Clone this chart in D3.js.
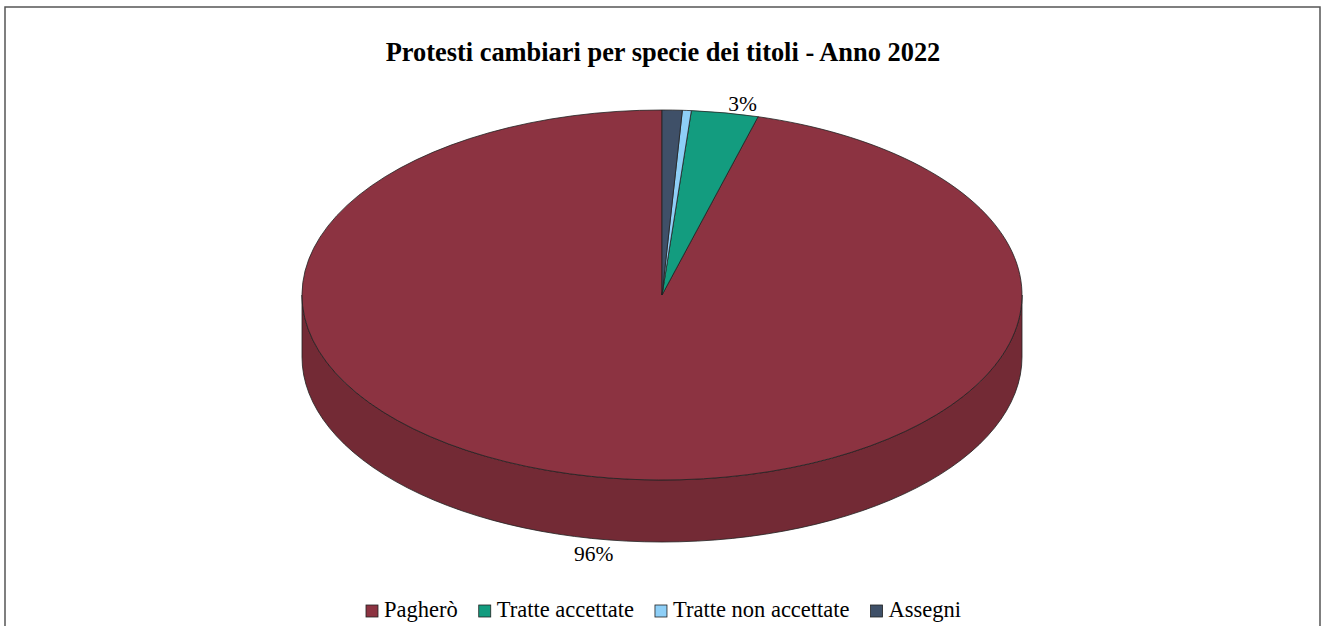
<!DOCTYPE html>
<html>
<head>
<meta charset="utf-8">
<script src="https://cdn.jsdelivr.net/npm/d3@7/dist/d3.min.js"></script>
<style>
  html, body { margin: 0; padding: 0; background: #fff; }
  svg { display: block; }
</style>
</head>
<body>
<svg id="chart" width="1323" height="626"></svg>
<script>
// Protesti cambiari per specie dei titoli, anno 2022 (quote percentuali)
const categories = ["Pagherò", "Tratte accettate", "Tratte non accettate", "Assegni"];
const shares = [95.7, 3.0, 0.4, 0.9];
const topColors = ["#8c3341", "#139c7f", "#8ecff7", "#3f5068"];
const sideColors = ["#732a35", "#0f7f67", "#70a9cc", "#323f52"];
const labelMin = 2; // slices below this share carry no label

const svg = d3.select("#chart");
const font = "'Liberation Serif', 'Times New Roman', serif";

// outer frame
svg.append("rect")
  .attr("x", 5).attr("y", 7).attr("width", 1315).attr("height", 660)
  .attr("fill", "#fff").attr("stroke", "#555").attr("stroke-width", 1.5);

svg.append("text")
  .attr("x", 663).attr("y", 55)
  .attr("text-anchor", "middle")
  .attr("dominant-baseline", "middle")
  .attr("font-family", font).attr("font-weight", "bold").attr("font-size", 26.4)
  .attr("fill", "#000")
  .text("Protesti cambiari per specie dei titoli - Anno 2022");

// elliptical 3D pie geometry
const cx = 662, cy = 295, rx = 360, ry = 185, depth = 62;
const px = a => cx + rx * Math.sin(a);
const py = a => cy - ry * Math.cos(a);

const data = categories.map((c, i) => ({ name: c, value: shares[i], i }));
const pie = d3.pie().value(d => d.value).sort(null)
  .startAngle(0).endAngle(-2 * Math.PI);
const arcs = pie(data).map(d => {
  const a0 = Math.min(d.startAngle, d.endAngle) + 2 * Math.PI;
  const a1 = Math.max(d.startAngle, d.endAngle) + 2 * Math.PI;
  return { ...d, a0, a1 };
});

function topPath(a0, a1) {
  const large = (a1 - a0) > Math.PI ? 1 : 0;
  return `M${cx},${cy}L${px(a0)},${py(a0)}A${rx},${ry} 0 ${large} 1 ${px(a1)},${py(a1)}Z`;
}
function sidePath(a0, a1) {
  const large = (a1 - a0) > Math.PI ? 1 : 0;
  return `M${px(a0)},${py(a0)}A${rx},${ry} 0 ${large} 1 ${px(a1)},${py(a1)}` +
    `L${px(a1)},${py(a1) + depth}A${rx},${ry} 0 ${large} 0 ${px(a0)},${py(a0) + depth}Z`;
}

// outer walls: only the front half (angles PI/2 .. 3PI/2, repeated per turn) is visible
const gSide = svg.append("g");
arcs.forEach(d => {
  [0, 2 * Math.PI, 4 * Math.PI].forEach(off => {
    const s = Math.max(d.a0, Math.PI / 2 + off);
    const e = Math.min(d.a1, 3 * Math.PI / 2 + off);
    if (e > s) {
      gSide.append("path")
        .attr("d", sidePath(s, e))
        .attr("fill", sideColors[d.data.i])
        .attr("stroke", "#222").attr("stroke-width", 0.8)
        .attr("stroke-linejoin", "round");
    }
  });
});

// top faces
svg.append("g").selectAll("path").data(arcs).join("path")
  .attr("d", d => topPath(d.a0, d.a1))
  .attr("fill", d => topColors[d.data.i])
  .attr("stroke", "#222").attr("stroke-width", 0.8)
  .attr("stroke-linejoin", "round");

// percentage labels outside the rim
svg.append("g").selectAll("text").data(arcs.filter(d => d.data.value >= labelMin)).join("text")
  .each(function (d) {
    const m = (d.a0 + d.a1) / 2;
    const front = Math.cos(m) < 0;
    const x = cx + rx * 1.12 * Math.sin(m) + (Math.sin(m) >= 0 ? 10 : -14);
    const y = cy - ry * 1.04 * Math.cos(m) + (front ? depth + 8 : 0);
    d3.select(this).attr("x", x).attr("y", y);
  })
  .attr("text-anchor", "middle")
  .attr("dominant-baseline", "middle")
  .attr("font-family", font).attr("font-size", 21.5)
  .attr("fill", "#000")
  .text(d => Math.round(d.data.value) + "%");

// legend
const lg = svg.append("g");
let lx = 366;
const ly = 611;
categories.forEach((c, i) => {
  lg.append("rect")
    .attr("x", lx).attr("y", ly - 6).attr("width", 12).attr("height", 12)
    .attr("fill", topColors[i]).attr("stroke", "#222").attr("stroke-width", 0.8);
  const t = lg.append("text")
    .attr("x", lx + 18).attr("y", ly + 1)
    .attr("dominant-baseline", "middle")
    .attr("font-family", font).attr("font-size", 22.5)
    .attr("fill", "#000")
    .text(c);
  lx += 18 + t.node().getComputedTextLength() + 21;
});
</script>
</body>
</html>
